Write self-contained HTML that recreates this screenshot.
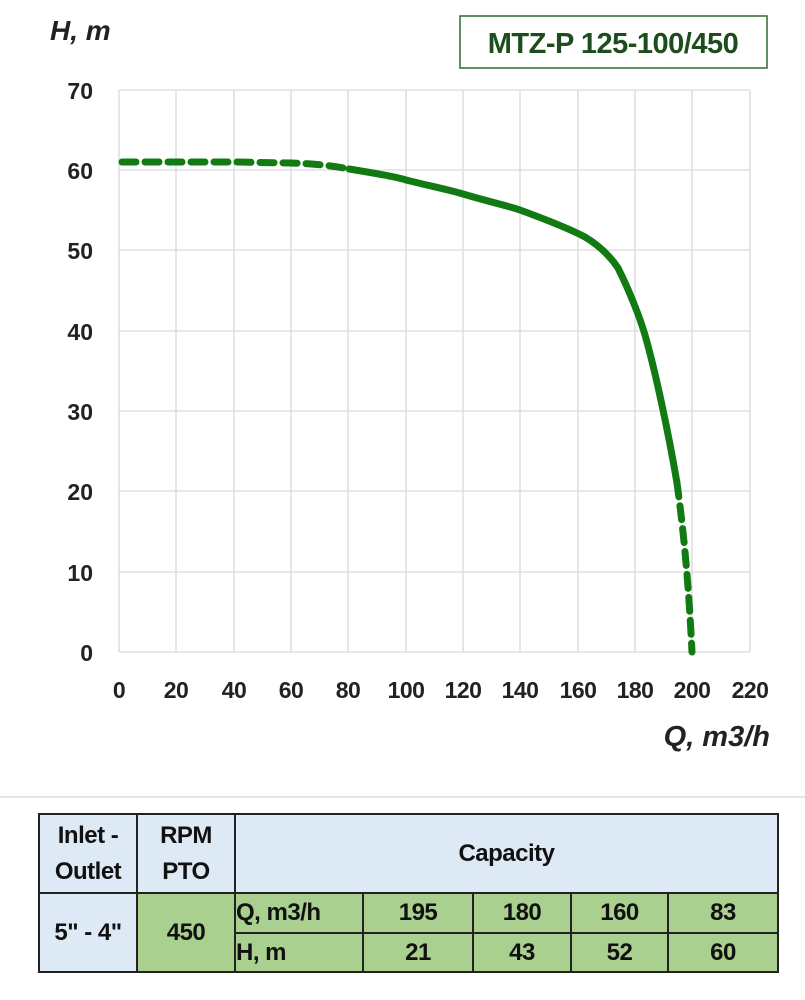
<!DOCTYPE html>
<html><head><style>
body{margin:0;background:#fff;width:805px;height:1000px;position:relative;overflow:hidden;font-family:"Liberation Sans",sans-serif;}
table{position:absolute;left:38px;top:813px;border-collapse:collapse;font-weight:bold;font-size:24px;color:#111;}
td{border:2px solid #222;text-align:center;padding:0;letter-spacing:-0.5px;}
.b{background:#dde9f5}.g{background:#a9d08e}
</style></head><body>
<svg width="805" height="800" style="position:absolute;left:0;top:0" font-family="Liberation Sans" font-weight="bold">
<g stroke="#d9d9d9" stroke-width="1.3">
<line x1="119" y1="90" x2="119" y2="652"/><line x1="176" y1="90" x2="176" y2="652"/><line x1="234" y1="90" x2="234" y2="652"/><line x1="291" y1="90" x2="291" y2="652"/><line x1="348" y1="90" x2="348" y2="652"/><line x1="406" y1="90" x2="406" y2="652"/><line x1="463" y1="90" x2="463" y2="652"/><line x1="520" y1="90" x2="520" y2="652"/><line x1="578" y1="90" x2="578" y2="652"/><line x1="635" y1="90" x2="635" y2="652"/><line x1="692" y1="90" x2="692" y2="652"/><line x1="750" y1="90" x2="750" y2="652"/>
<line x1="119" y1="90" x2="750" y2="90"/><line x1="119" y1="170" x2="750" y2="170"/><line x1="119" y1="250" x2="750" y2="250"/><line x1="119" y1="331" x2="750" y2="331"/><line x1="119" y1="411" x2="750" y2="411"/><line x1="119" y1="491" x2="750" y2="491"/><line x1="119" y1="572" x2="750" y2="572"/><line x1="119" y1="652" x2="750" y2="652"/>
</g>
<g font-size="23" fill="#222" text-anchor="end">
<text x="93" y="99">70</text><text x="93" y="179">60</text><text x="93" y="259">50</text><text x="93" y="340">40</text><text x="93" y="420">30</text><text x="93" y="500">20</text><text x="93" y="581">10</text><text x="93" y="661">0</text>
</g>
<g font-size="23" fill="#222" text-anchor="middle" letter-spacing="-0.5">
<text x="119" y="698">0</text><text x="176" y="698">20</text><text x="234" y="698">40</text><text x="291" y="698">60</text><text x="348" y="698">80</text><text x="406" y="698">100</text><text x="463" y="698">120</text><text x="520" y="698">140</text><text x="578" y="698">160</text><text x="635" y="698">180</text><text x="692" y="698">200</text><text x="750" y="698">220</text>
</g>
<text x="50" y="40" font-size="28" font-style="italic" fill="#222">H, m</text>
<text x="770" y="746" font-size="29" font-style="italic" fill="#222" text-anchor="end">Q, m3/h</text>
<rect x="460" y="16" width="307" height="52" fill="#fff" stroke="#2e6b2e" stroke-width="1.5"/>
<text x="613" y="53" font-size="29" fill="#1d4d1d" text-anchor="middle" letter-spacing="-0.5">MTZ-P 125-100/450</text>
<g fill="none" stroke="#127a12" stroke-width="7" stroke-linecap="round">
<path d="M122,162 L176,162 L234,162 L291,163 Q325,164 349,169" stroke-dasharray="14,9"/>
<path d="M349,169 C380,174 400,178 406,180 C430,186 450,190 463,194 C490,202 505,205 520,210 C550,221 570,229 585,237 C600,246 610,256 618,268 C630,292 640,318 645,335 C655,370 668,430 677,483"/>
<path d="M677,483 C682,520 688,570 692,652" stroke-dasharray="14,9"/>
</g>
<line x1="0" y1="797" x2="805" y2="797" stroke="#ddd" stroke-width="1.5"/>
</svg>
<table>
<tr style="height:79px"><td class="b" style="width:96px;line-height:36px">Inlet -<br>Outlet</td><td class="b" style="width:96px;line-height:36px">RPM<br>PTO</td><td class="b" colspan="5">Capacity</td></tr>
<tr style="height:40px"><td class="b" rowspan="2">5" - 4"</td><td class="g" rowspan="2">450</td><td class="g" style="width:126px;text-align:left">Q, m3/h</td><td class="g" style="width:108px">195</td><td class="g" style="width:96px">180</td><td class="g" style="width:95px">160</td><td class="g" style="width:108px">83</td></tr>
<tr style="height:39px"><td class="g" style="text-align:left">H, m</td><td class="g">21</td><td class="g">43</td><td class="g">52</td><td class="g">60</td></tr>
</table>
</body></html>
